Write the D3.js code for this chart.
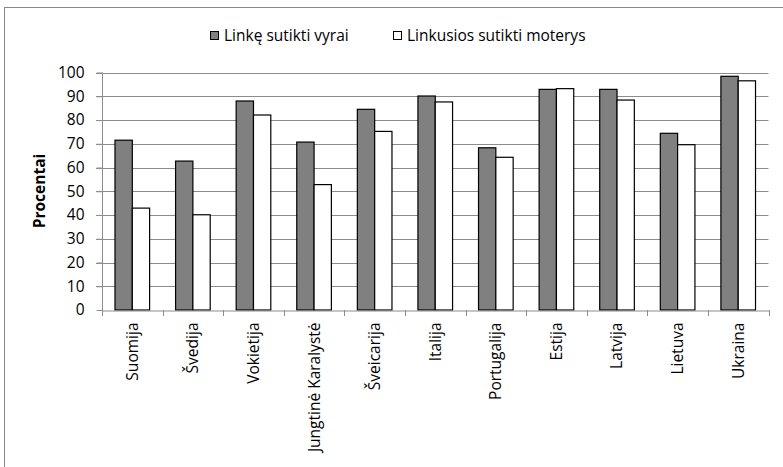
<!DOCTYPE html>
<html><head><meta charset="utf-8">
<script src="https://cdn.jsdelivr.net/npm/d3@7"></script>
<style>body{margin:0;background:#fff}svg{display:block;font-family:"Open Sans",sans-serif}</style>
</head><body>
<svg id="c" width="783" height="467"></svg>
<script>
const categories = ["Suomija","Švedija","Vokietija","Jungtinė Karalystė","Šveicarija","Italija","Portugalija","Estija","Latvija","Lietuva","Ukraina"];
const seriesNames = ["Linkę sutikti vyrai","Linkusios sutikti moterys"];
const men   = [71.5, 62.7, 88.0, 70.7, 84.5, 90.1, 68.3, 92.9, 92.9, 74.4, 98.4];
const women = [42.9, 40.1, 82.1, 52.8, 75.2, 87.6, 64.3, 93.2, 88.4, 69.6, 96.5];
const yTicks = [0,10,20,30,40,50,60,70,80,90,100];
const yTitle = "Procentai";

const svg = d3.select("#c");
const fs = 15.5;
svg.append("rect").attr("x",4.5).attr("y",7.5).attr("width",790).attr("height",470)
  .attr("fill","#fff").attr("stroke","#888");

const x = d3.scaleBand().domain(categories).range([102,768.5]).paddingInner(0).paddingOuter(0);
const y = d3.scaleLinear().domain([0,100]).range([310,72.5]);
const barW = x.bandwidth()/3.5;
const off = (x.bandwidth()-2*barW)/2;

// gridlines
svg.append("g").selectAll("line").data(yTicks.filter(d=>d>0)).join("line")
  .attr("x1",96).attr("x2",768.5).attr("y1",d=>Math.round(y(d))+0.5).attr("y2",d=>Math.round(y(d))+0.5)
  .attr("stroke","#8c8c8c");

// y axis
const yAxis = d3.axisLeft(y).tickValues(yTicks).tickSize(6).tickPadding(12);
const gy = svg.append("g").attr("transform","translate(102.5,0)").call(yAxis);
gy.selectAll("path,line").attr("stroke","#8c8c8c");
gy.select(".domain").attr("d","M0,"+y(100)+"V"+(y(0)));
gy.selectAll("text").attr("font-size",fs).attr("font-family","Open Sans").attr("fill","#000");

// bars
const gb = svg.append("g");
gb.selectAll("rect.m").data(categories).join("rect").attr("class","m")
  .attr("x",d=>x(d)+off).attr("width",barW)
  .attr("y",(d,i)=>y(men[i])).attr("height",(d,i)=>y(0)-y(men[i]))
  .attr("fill","#808080").attr("stroke","#000").attr("stroke-width",1.2);
gb.selectAll("rect.w").data(categories).join("rect").attr("class","w")
  .attr("x",d=>x(d)+off+barW).attr("width",barW)
  .attr("y",(d,i)=>y(women[i])).attr("height",(d,i)=>y(0)-y(women[i]))
  .attr("fill","#fff").attr("stroke","#000").attr("stroke-width",1.2);

// x axis
const xAxis = d3.axisBottom(x).tickSize(0).tickSizeOuter(0);
const gx = svg.append("g").attr("transform","translate(0,310.5)").call(xAxis);
gx.select(".domain").attr("stroke","#8c8c8c");
gx.selectAll(".tick line").remove();
gx.selectAll(".tick text").attr("font-size",fs).attr("font-family","Open Sans").attr("fill","#000")
  .attr("transform","rotate(-90)").attr("text-anchor","end").attr("dy","0.35em").attr("dx","0").attr("x",-12).attr("y",0);
const bounds = categories.map(c=>x(c)).concat([x.range()[1]]);
svg.append("g").selectAll("line").data(bounds).join("line")
  .attr("x1",d=>Math.round(d)+0.5).attr("x2",d=>Math.round(d)+0.5).attr("y1",310).attr("y2",316)
  .attr("stroke","#8c8c8c");

// y title
svg.append("text").attr("transform","translate(45,191) rotate(-90)").attr("text-anchor","middle")
  .attr("font-size",fs).attr("font-weight","bold").text(yTitle);

// legend
const lg = svg.append("g");
const lx = [210,393];
seriesNames.forEach((n,i)=>{
  lg.append("rect").attr("x",lx[i]+0.5).attr("y",31.5).attr("width",8).attr("height",8)
    .attr("fill",i===0?"#808080":"#fff").attr("stroke","#000");
  lg.append("text").attr("x",lx[i]+14).attr("y",35.5).attr("dy","0.35em").attr("font-size",fs).text(n);
});
</script>
</body></html>
